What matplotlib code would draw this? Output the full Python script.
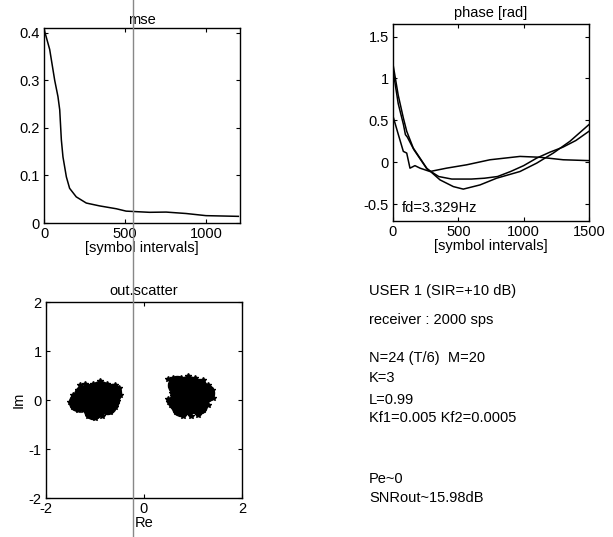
import matplotlib
matplotlib.use('Agg')
import matplotlib.pyplot as plt
from matplotlib.ticker import FormatStrFormatter
from matplotlib.lines import Line2D

plt.rcParams['font.family'] = ['Liberation Sans', 'DejaVu Sans']
plt.rcParams['font.size'] = 10.5
plt.rcParams['axes.unicode_minus'] = False

# mse curve
mse_x = [0, 4, 35, 66, 86, 97, 107, 117, 138, 158, 199, 261, 343, 446, 507, 651, 754, 877, 1000, 1200]
mse_y = [0.41, 0.403, 0.365, 0.30, 0.266, 0.238, 0.175, 0.139, 0.097, 0.073, 0.055, 0.042, 0.036, 0.030,
         0.025, 0.0225, 0.023, 0.020, 0.0155, 0.014]

# phase curves
ph_a_x = [0, 40, 79, 105, 155, 258, 360, 462, 538, 666, 793, 972, 1100, 1227, 1354, 1500]
ph_a_y = [1.17, 0.8, 0.53, 0.37, 0.17, -0.07, -0.21, -0.29, -0.32, -0.27, -0.19, -0.11, -0.01, 0.11, 0.25, 0.45]
ph_b_x = [0, 40, 80, 95, 110, 160, 260, 350, 450, 600, 700, 800, 900, 1000, 1100, 1200, 1300, 1400, 1500]
ph_b_y = [1.1, 0.7, 0.45, 0.33, 0.3, 0.15, -0.08, -0.17, -0.2, -0.2, -0.19, -0.17, -0.11, -0.04, 0.05, 0.12, 0.18, 0.26, 0.37]
ph_c_x = [0, 41, 79, 105, 130, 168, 207, 283, 410, 564, 742, 972, 1125, 1303, 1500]
ph_c_y = [0.55, 0.33, 0.13, 0.11, -0.07, -0.04, -0.07, -0.11, -0.07, -0.03, 0.03, 0.07, 0.06, 0.03, 0.02]

# scatter clusters: edge points and core points
left_edge_re = [-1.5, -1.45, -1.45, -1.35, -1.3, -1.2, -1.05, -0.9, -0.75, -0.6, -0.5, -0.48, -0.55, -0.6,
                -0.7, -0.85, -1.0, -1.15, -1.25, -1.35]
left_edge_im = [-0.05, 0.1, -0.15, 0.2, 0.3, 0.33, 0.33, 0.38, 0.32, 0.3, 0.25, 0.1, -0.02, -0.15,
                -0.25, -0.33, -0.37, -0.33, -0.2, -0.2]
left_core_re = [-1.2, -1.0, -0.8, -0.95, -0.75, -1.1, -0.65, -1.25, -0.9, -1.05, -0.7, -1.35]
left_core_im = [0.0, 0.1, 0.1, -0.15, -0.1, 0.15, 0.15, 0.1, 0.2, -0.2, 0.0, -0.05]
right_edge_re = [0.5, 0.6, 0.75, 0.9, 1.05, 1.2, 1.3, 1.38, 1.4, 1.3, 1.2, 1.1, 0.95, 0.8, 0.65, 0.55,
                 0.5, 0.58, 0.55, 0.52, 0.6]
right_edge_im = [0.42, 0.45, 0.45, 0.48, 0.45, 0.4, 0.3, 0.2, 0.05, -0.1, -0.2, -0.3, -0.32, -0.32, -0.25,
                 -0.1, 0.02, 0.15, 0.3, -0.05, 0.08]
right_core_re = [0.8, 1.0, 1.15, 0.9, 1.1, 0.72, 0.9, 1.1, 0.75, 1.25, 0.7, 0.68]
right_core_im = [0.1, 0.1, 0.05, -0.1, -0.1, 0.0, 0.3, 0.25, -0.15, 0.15, -0.05, 0.3]

info_lines = ['USER 1 (SIR=+10 dB)', 'receiver : 2000 sps', 'N=24 (T/6)  M=20', 'K=3', 'L=0.99',
              'Kf1=0.005 Kf2=0.0005', 'Pe~0', 'SNRout~15.98dB']
info_y = [291, 320, 358, 378, 400, 418, 479, 498]

fig = plt.figure(figsize=(6.13, 5.37), dpi=100)


def style(ax):
    ax.tick_params(direction='in', length=3, width=0.8, top=True, right=True, pad=3)
    for s in ax.spines.values():
        s.set_linewidth(1.0)


# mse
ax1 = fig.add_axes([0.0718, 0.5847, 0.3197, 0.3631])
ax1.plot(mse_x, mse_y, color='black', lw=1.1)
ax1.set_xlim(0, 1210)
ax1.set_ylim(0, 0.41)
ax1.set_xticks([0, 500, 1000])
ax1.set_yticks([0, 0.1, 0.2, 0.3, 0.4])
ax1.yaxis.set_major_formatter(FormatStrFormatter('%g'))
ax1.set_title('mse', fontsize=10.5, pad=3)
ax1.set_xlabel('[symbol intervals]', labelpad=0)
style(ax1)

# phase
ax2 = fig.add_axes([0.6411, 0.5885, 0.3197, 0.3669])
ax2.plot(ph_a_x, ph_a_y, color='black', lw=1.1)
ax2.plot(ph_b_x, ph_b_y, color='black', lw=1.1)
ax2.plot(ph_c_x, ph_c_y, color='black', lw=1.1)
ax2.set_xlim(0, 1500)
ax2.set_ylim(-0.7, 1.65)
ax2.set_xticks([0, 500, 1000, 1500])
ax2.set_yticks([-0.5, 0, 0.5, 1, 1.5])
ax2.yaxis.set_major_formatter(FormatStrFormatter('%g'))
ax2.set_title('phase [rad]', fontsize=10.5, pad=5)
ax2.set_xlabel('[symbol intervals]', labelpad=0)
ax2.text(70, -0.55, 'fd=3.329Hz', va='center', ha='left')
style(ax2)

# scatter
ax3 = fig.add_axes([0.0750, 0.0726, 0.3197, 0.3650])
for re, im in [(left_core_re, left_core_im), (right_core_re, right_core_im)]:
    ax3.plot(re, im, 'o', color='black', ms=13, mec='black')
for re, im in [(left_edge_re, left_edge_im), (right_edge_re, right_edge_im)]:
    ax3.plot(re, im, '*', color='black', ms=4, mec='black')
ax3.set_xlim(-2, 2)
ax3.set_ylim(-2, 2)
ax3.set_xticks([-2, 0, 2])
ax3.set_yticks([-2, -1, 0, 1, 2])
ax3.set_title('out.scatter', fontsize=10.5, pad=5)
ax3.set_xlabel('Re', labelpad=0)
ax3.set_ylabel('Im', labelpad=2)
style(ax3)

# info text
for txt, yp in zip(info_lines, info_y):
    fig.text(369 / 613, 1 - yp / 537, txt, ha='left', va='center', fontsize=10.5)

# vertical fold line across the page
fig.add_artist(Line2D([133 / 613, 133 / 613], [0, 1], transform=fig.transFigure, color='#888888', lw=1.0))

fig.savefig('out.png', dpi=100)
